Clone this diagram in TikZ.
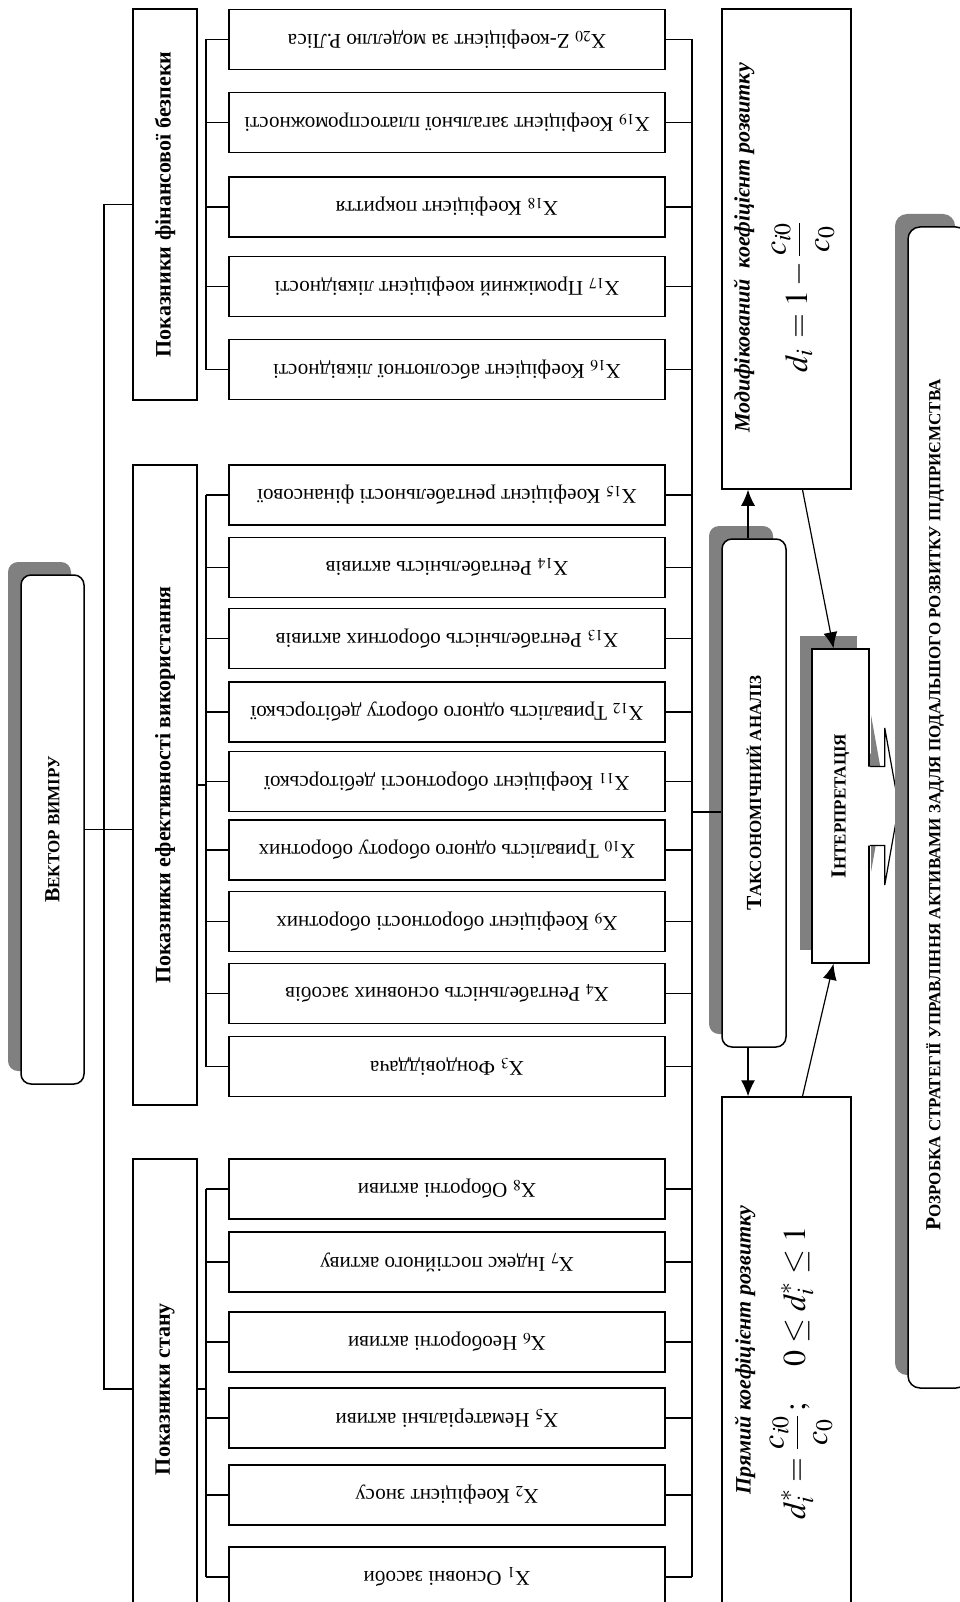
\documentclass[tikz,border=0pt]{standalone}
\usepackage{mathptmx}
\usepackage{fontspec}
\setmainfont{Liberation Serif}
\usetikzlibrary{arrows.meta,shadows}

\definecolor{shadegray}{RGB}{128,128,128}
\newcommand{\leaffont}{\fontsize{21}{25}\selectfont}
\newcommand{\catfont}{\fontsize{22}{26}\selectfont\bfseries}
\newcommand{\capsc}[2]{{\bfseries\fontsize{21.5}{25}\selectfont #1\fontsize{17}{20}\selectfont #2}}
\newcommand{\formfont}{\fontsize{32}{38}\selectfont}

\tikzset{
  leaf/.style={draw, line width=1.5pt, minimum width=436pt, minimum height=60pt, inner sep=0pt},
  cat/.style={draw, line width=1.5pt, minimum width=64pt, inner sep=0pt},
  panel/.style={draw, fill=white, line width=1.5pt, inner sep=0pt},
  plate/.style={panel, rounded corners=10pt, drop shadow={shadow xshift=-13pt, shadow yshift=13pt, fill=shadegray, opacity=1}},
  flip/.style={rotate=180, font=\leaffont, inner sep=0pt},
  upright/.style={rotate=90, inner sep=0pt},
  link/.style={line width=1.2pt},
  pointer/.style={line width=1.2pt, -{Latex[length=16pt,width=14pt]}},
}

\begin{document}
\begin{tikzpicture}[x=1pt, y=-1pt]

\path[use as bounding box] (0,0) rectangle (960,1602);
\clip (0,0) rectangle (960,1602);

% groups of indicators
\node[cat, minimum height=391pt] (cat1) at (165,204.5) {};
\node[cat, minimum height=640pt] (cat2) at (165,785) {};
\node[cat, minimum height=460pt] (cat3) at (165,1389) {};

\node[leaf] (x20) at (447,39.5) {};
\node[leaf] (x19) at (447,122.5) {};
\node[leaf] (x18) at (447,207) {};
\node[leaf] (x17) at (447,286.5) {};
\node[leaf] (x16) at (447,369.5) {};

\node[leaf] (x15) at (447,495) {};
\node[leaf] (x14) at (447,567.5) {};
\node[leaf] (x13) at (447,638.5) {};
\node[leaf] (x12) at (447,712) {};
\node[leaf] (x11) at (447,781.5) {};
\node[leaf] (x10) at (447,850) {};
\node[leaf] (x9) at (447,921.5) {};
\node[leaf] (x4) at (447,993.5) {};
\node[leaf] (x3) at (447,1066.5) {};

\node[leaf] (x8) at (447,1189) {};
\node[leaf] (x7) at (447,1262) {};
\node[leaf] (x6) at (447,1342) {};
\node[leaf] (x5) at (447,1418) {};
\node[leaf] (x2) at (447,1495) {};
\node[leaf] (x1) at (447,1577) {};

\coordinate (lb) at (206,0);
\coordinate (rb) at (692,0);
\coordinate (trunk) at (104,800);
\coordinate (tapin) at (692,812);

% left bars
\draw[link] (x20.west -| lb) -- (x16.west -| lb);
\draw[link] (x15.west -| lb) -- (x3.west -| lb);
\draw[link] (x8.west -| lb) -- (x1.west -| lb);
\draw[link] (cat2.east) -- (cat2.east -| lb);
\draw[link] (cat3.east) -- (cat3.east -| lb);

\draw[link] (x20.west) -- (x20.west -| lb);
\draw[link] (x19.west) -- (x19.west -| lb);
\draw[link] (x18.west) -- (x18.west -| lb);
\draw[link] (x17.west) -- (x17.west -| lb);
\draw[link] (x16.west) -- (x16.west -| lb);
\draw[link] (x15.west) -- (x15.west -| lb);
\draw[link] (x14.west) -- (x14.west -| lb);
\draw[link] (x13.west) -- (x13.west -| lb);
\draw[link] (x12.west) -- (x12.west -| lb);
\draw[link] (x11.west) -- (x11.west -| lb);
\draw[link] (x10.west) -- (x10.west -| lb);
\draw[link] (x9.west) -- (x9.west -| lb);
\draw[link] (x4.west) -- (x4.west -| lb);
\draw[link] (x3.west) -- (x3.west -| lb);
\draw[link] (x8.west) -- (x8.west -| lb);
\draw[link] (x7.west) -- (x7.west -| lb);
\draw[link] (x6.west) -- (x6.west -| lb);
\draw[link] (x5.west) -- (x5.west -| lb);
\draw[link] (x2.west) -- (x2.west -| lb);
\draw[link] (x1.west) -- (x1.west -| lb);

% right bar
\draw[link] (x20.east -| rb) -- (x1.east -| rb);
\draw[link] (x20.east) -- (x20.east -| rb);
\draw[link] (x19.east) -- (x19.east -| rb);
\draw[link] (x18.east) -- (x18.east -| rb);
\draw[link] (x17.east) -- (x17.east -| rb);
\draw[link] (x16.east) -- (x16.east -| rb);
\draw[link] (x15.east) -- (x15.east -| rb);
\draw[link] (x14.east) -- (x14.east -| rb);
\draw[link] (x13.east) -- (x13.east -| rb);
\draw[link] (x12.east) -- (x12.east -| rb);
\draw[link] (x11.east) -- (x11.east -| rb);
\draw[link] (x10.east) -- (x10.east -| rb);
\draw[link] (x9.east) -- (x9.east -| rb);
\draw[link] (x4.east) -- (x4.east -| rb);
\draw[link] (x3.east) -- (x3.east -| rb);
\draw[link] (x8.east) -- (x8.east -| rb);
\draw[link] (x7.east) -- (x7.east -| rb);
\draw[link] (x6.east) -- (x6.east -| rb);
\draw[link] (x5.east) -- (x5.east -| rb);
\draw[link] (x2.east) -- (x2.east -| rb);
\draw[link] (x1.east) -- (x1.east -| rb);

% vector of measurement
\node[plate, minimum width=63pt, minimum height=509pt] (vec) at (52.5,829.5) {};
\draw[link] (vec.east) -- (cat2.west |- vec.east);
\draw[link] (cat1.west) -| (trunk) |- (cat3.west);

% analysis
\node[plate, minimum width=64pt, minimum height=508pt] (tax) at (754,793) {};
\node[panel, minimum width=129pt, minimum height=480pt] (mod) at (786.5,249) {};
\node[panel, minimum width=129pt, minimum height=523pt] (dir) at (786.5,1358.5) {};
\draw[link] (tapin) -- (tapin -| tax.west);

% interpretation with its arrow
\fill[shadegray] (856,753.5) -- (871,753.5) -- (871,715) -- (885,793) -- (871,872) -- (871,833.5) -- (856,833.5) -- cycle;
\node[panel, minimum width=57pt, minimum height=314pt, drop shadow={shadow xshift=-12pt, shadow yshift=13pt, fill=shadegray, opacity=1}] (interp) at (840.5,806) {};
\begin{scope}[shift={(interp.east)}]
\fill[white] (-2,-39.5) -- (15,-39.5) -- (15,-78) -- (29,0) -- (15,79) -- (15,39.5) -- (-2,39.5) -- cycle;
\draw[line width=1.2pt] (0,-39.5) -- (15,-39.5) -- (15,-78) -- (29,0) -- (15,79) -- (15,39.5) -- (0,39.5);
\end{scope}

\node[plate, rounded corners=12pt, minimum width=60pt, minimum height=1161pt] (strat) at (938,807.5) {};

\draw[pointer] ([xshift=-6pt]tax.north) -- ([xshift=-6pt]tax.north |- mod.south);
\draw[pointer] ([xshift=-6pt]tax.south) -- ([xshift=-6pt]tax.south |- dir.north);
\draw[pointer] ([xshift=16pt]mod.south) -- ([xshift=-7pt]interp.north);
\draw[pointer] ([xshift=16pt]dir.north) -- ([xshift=-7pt]interp.south);

% texts
\node[upright] (tvec) at (vec) {\capsc{В}{ЕКТОР ВИМІРУ}};
\node[upright, font=\catfont] (tcat1) at (cat1) {Показники фінансової безпеки};
\node[upright, font=\catfont] (tcat2) at (cat2) {Показники ефективності використання};
\node[upright, font=\catfont] (tcat3) at (cat3) {Показники стану};
\node[upright] (ttax) at (tax) {\capsc{Т}{АКСОНОМІЧНИЙ АНАЛІЗ}};
\node[upright] (tinterp) at (interp) {\capsc{І}{НТЕРПРЕТАЦІЯ}};
\node[upright] (tstrat) at (935,805) {\capsc{Р}{ОЗРОБКА СТРАТЕГІЇ УПРАВЛІННЯ АКТИВАМИ ЗАДЛЯ ПОДАЛЬШОГО РОЗВИТКУ ПІДПРИЄМСТВА}};

\node[upright, font=\catfont\itshape] (tmod) at (744,248) {Модифікований\ \ коефіцієнт розвитку};
\node[upright, font=\formfont] (fmod) at (803,297) {$\displaystyle d_i\, = 1 - \frac{c_{i0}}{c_0}$};
\node[upright, font=\catfont\itshape] (tdir) at (745,1350) {Прямий коефіцієнт розвитку};
\node[upright, font=\formfont] (fdir) at (801,1373) {$\displaystyle d_i^{*} = \frac{c_{i0}}{c_0}\,;\quad 0 \le d_i^{*} \le 1$};

\node[flip] (t20) at (x20) {X$_{20}$ Z-коефіцієнт за моделлю Р.Ліса};
\node[flip] (t19) at (x19) {X$_{19}$ Коефіцієнт загальної платоспроможності};
\node[flip] (t18) at (x18) {X$_{18}$ Коефіцієнт покриття};
\node[flip] (t17) at (x17) {X$_{17}$ Проміжний коефіцієнт ліквідності};
\node[flip] (t16) at (x16) {X$_{16}$ Коефіцієнт абсолютної ліквідності};
\node[flip] (t15) at (x15) {X$_{15}$ Коефіцієнт рентабельності фінансової};
\node[flip] (t14) at (x14) {X$_{14}$ Рентабельність активів};
\node[flip] (t13) at (x13) {X$_{13}$ Рентабельність оборотних активів};
\node[flip] (t12) at (x12) {X$_{12}$ Тривалість одного обороту дебіторської};
\node[flip] (t11) at (x11) {X$_{11}$ Коефіцієнт оборотності дебіторської};
\node[flip] (t10) at (x10) {X$_{10}$ Тривалість одного обороту оборотних};
\node[flip] (t9) at (x9) {X$_{9}$ Коефіцієнт оборотності оборотних};
\node[flip] (t4) at (x4) {X$_{4}$ Рентабельність основних засобів};
\node[flip] (t3) at (x3) {X$_{3}$ Фондовіддача};
\node[flip] (t8) at (x8) {X$_{8}$ Оборотні активи};
\node[flip] (t7) at (x7) {X$_{7}$ Індекс постійного активу};
\node[flip] (t6) at (x6) {X$_{6}$ Необоротні активи};
\node[flip] (t5) at (x5) {X$_{5}$ Нематеріальні активи};
\node[flip] (t2) at (x2) {X$_{2}$ Коефіцієнт зносу};
\node[flip] (t1) at (x1) {X$_{1}$ Основні засоби};

\end{tikzpicture}
\end{document}
